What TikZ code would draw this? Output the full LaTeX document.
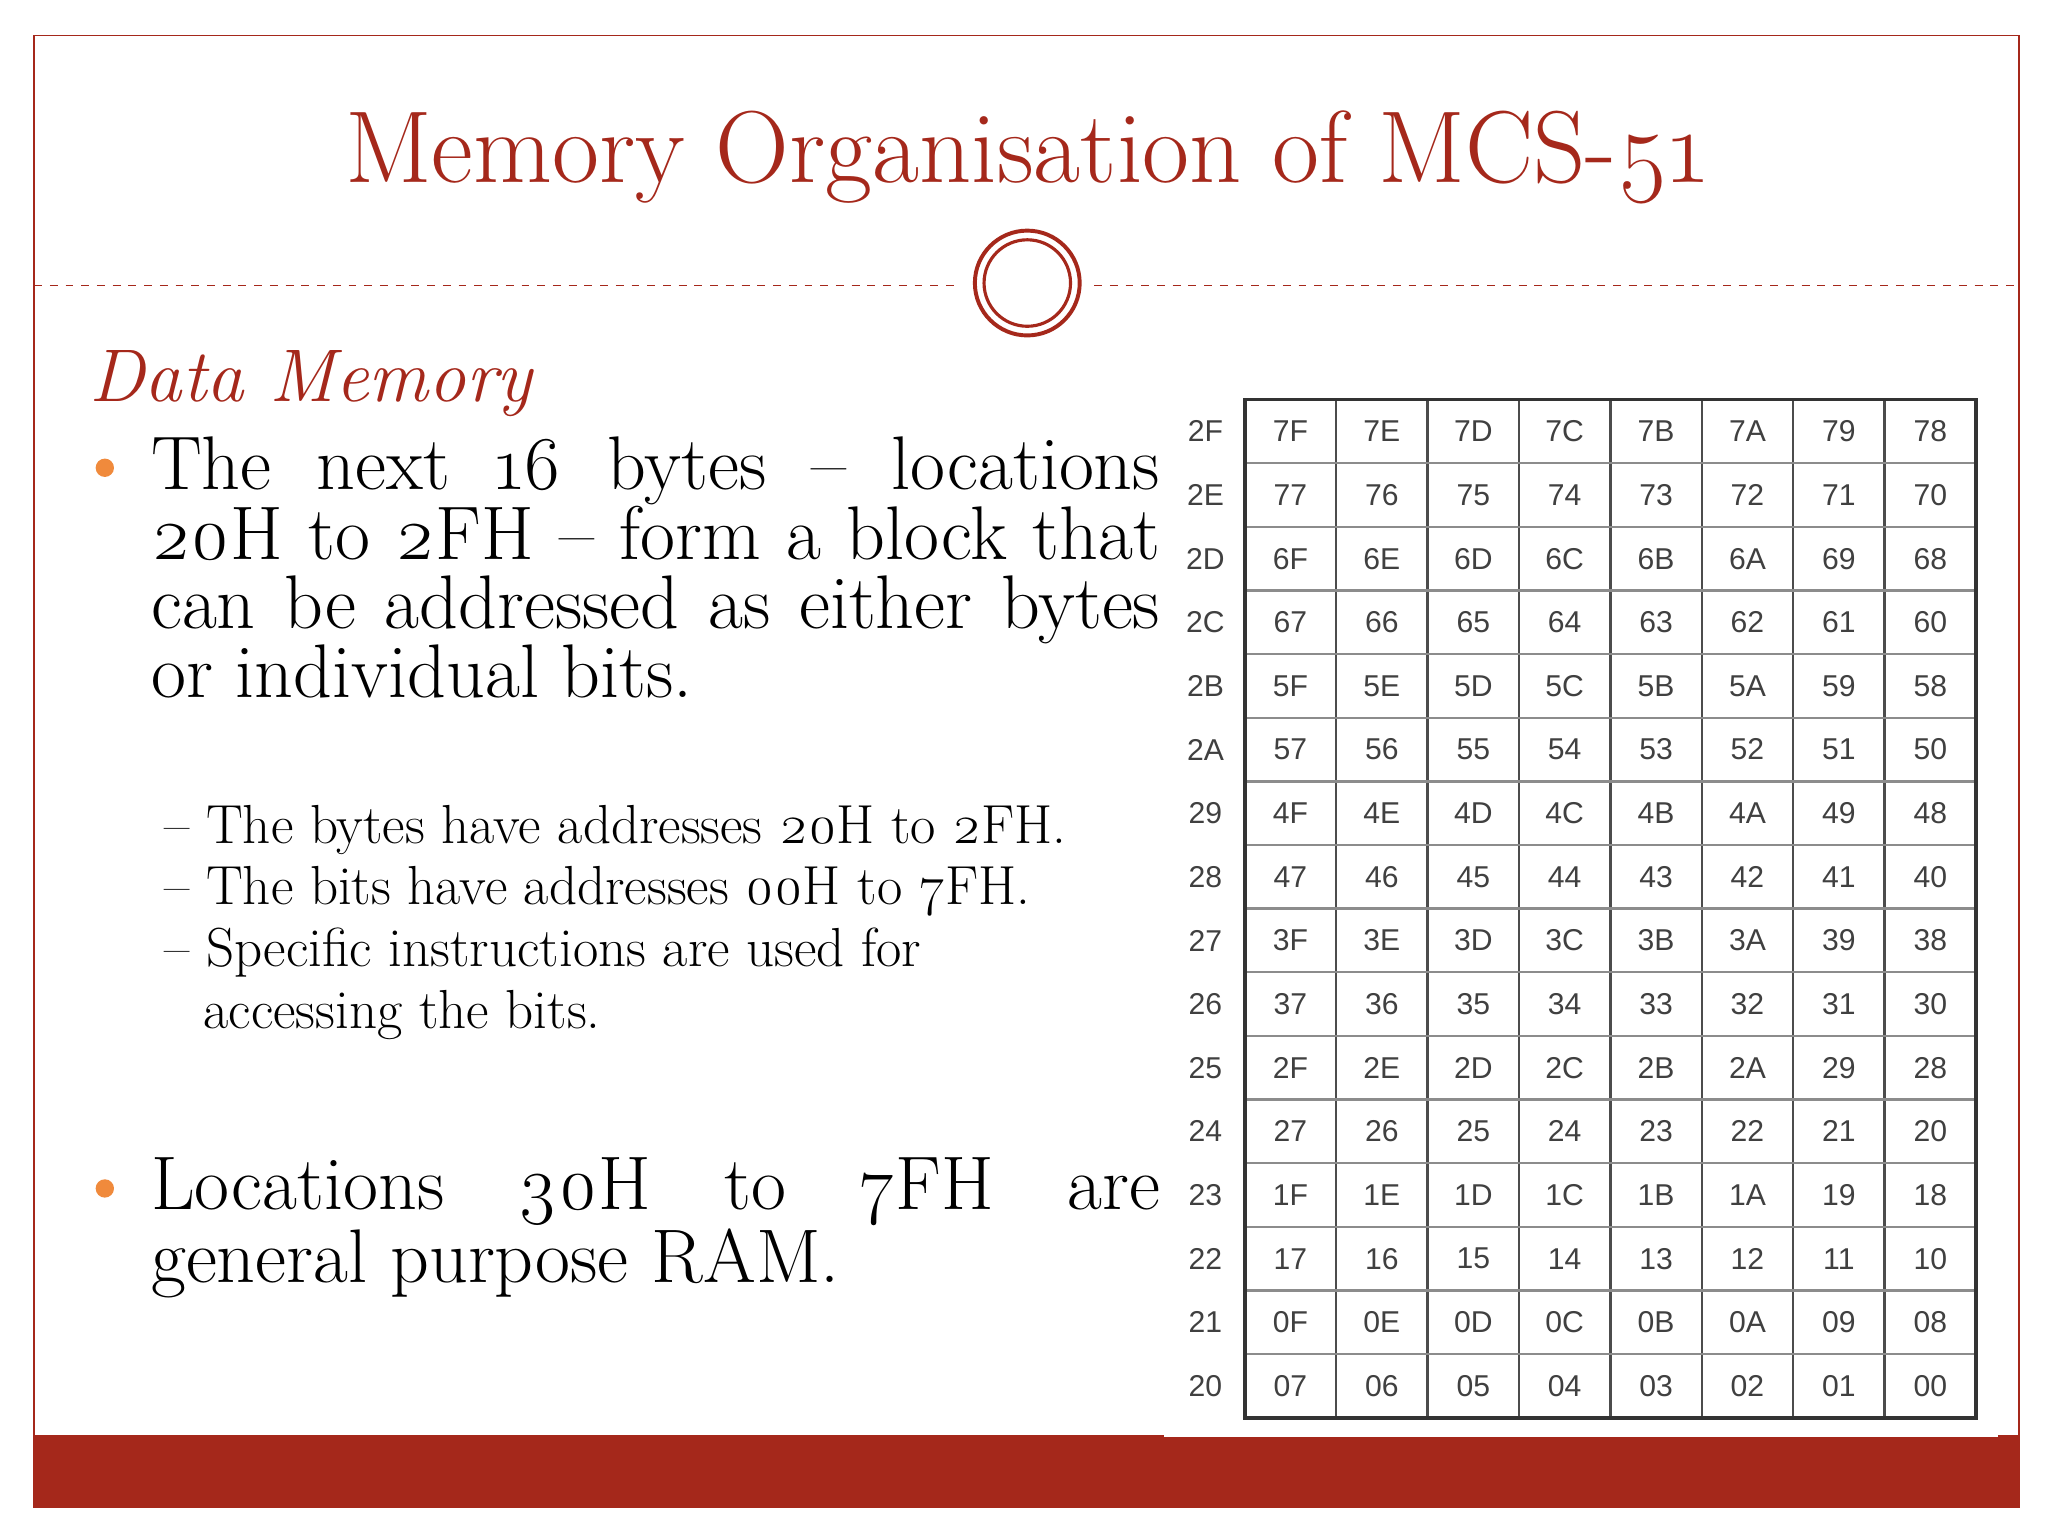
\documentclass[tikz,border=0pt]{standalone}
\usepackage{fontspec}
\setmainfont{Latin Modern Roman}[Numbers=OldStyle]
\newfontfamily\tabfont{Liberation Sans}
\definecolor{dred}{HTML}{A5281B}
\definecolor{orng}{HTML}{F08A3C}
\begin{document}
\begin{tikzpicture}[x=0.5pt,y=-0.5pt,
  body/.style={anchor=north west,inner sep=0,align=justify,text width=385pt,font=\fontsize{29}{26.5}\selectfont},
  sub/.style={anchor=north west,inner sep=0,align=left,font=\fontsize{21}{23.5}\selectfont},
  cell/.style={font=\tabfont\fontsize{11.5}{12}\selectfont,text=black!75}]
\useasboundingbox (0,0) rectangle (1563,1172);
\fill[white] (0,0) rectangle (1563,1172);
\draw[dred,line width=0.6pt] (26,27) rectangle (1541,1150);
\fill[dred] (26,1095) rectangle (1541,1150);
\node[text=dred,font=\fontsize{39}{40}\selectfont] (title) at (783,120) {Memory Organisation of MCS-51};
\draw[dred,dashed,line width=0.5pt] (26,218) -- (733,218);
\draw[dred,dashed,line width=0.5pt] (835,218) -- (1541,218);
\node[circle,draw=dred,line width=1.5pt,minimum size=40pt] (c1) at (784,216) {};
\node[circle,draw=dred,line width=1.2pt,minimum size=33pt] (c2) at (784,216) {};
\node[anchor=west,text=dred,font=\itshape\fontsize{28.5}{30}\selectfont,inner sep=0] (dm) at (68,293) {Data Memory};
\fill[orng] (80,357) circle (7);
\node[body] (p1) at (115,333) {The next 16 bytes -- locations\linebreak 20H to 2FH -- form a block that\linebreak can be addressed as either bytes\linebreak or individual bits.};
\node[sub] (s1) at (125,614) {-- The bytes have addresses 20H to 2FH.\\-- The bits have addresses 00H to 7FH.\\-- Specific instructions are used for\\\hspace*{15pt}accessing the bits.};
\fill[orng] (80,907) circle (7);
\node[body] (p2) at (115,883) {Locations 30H to 7FH are\linebreak general purpose RAM.};
\fill[white] (888,300) rectangle (1525,1097);
\foreach \r [count=\i from 0] in {2F,2E,2D,2C,2B,2A,29,28,27,26,25,24,23,22,21,20} {
  \pgfmathsetmacro\yy{305+(\i+0.5)*48.56}
  \node[cell] (r\i) at (920,\yy) {\r};
}
\foreach \row [count=\i from 0] in {
 {7F,7E,7D,7C,7B,7A,79,78},{77,76,75,74,73,72,71,70},{6F,6E,6D,6C,6B,6A,69,68},{67,66,65,64,63,62,61,60},
 {5F,5E,5D,5C,5B,5A,59,58},{57,56,55,54,53,52,51,50},{4F,4E,4D,4C,4B,4A,49,48},{47,46,45,44,43,42,41,40},
 {3F,3E,3D,3C,3B,3A,39,38},{37,36,35,34,33,32,31,30},{2F,2E,2D,2C,2B,2A,29,28},{27,26,25,24,23,22,21,20},
 {1F,1E,1D,1C,1B,1A,19,18},{17,16,15,14,13,12,11,10},{0F,0E,0D,0C,0B,0A,09,08},{07,06,05,04,03,02,01,00}} {
  \foreach \v [count=\j from 0] in \row {
    \pgfmathsetmacro\yy{305+(\i+0.5)*48.56}
    \pgfmathsetmacro\xx{950+(\j+0.5)*69.75}
    \node[cell] (c\i-\j) at (\xx,\yy) {\v};
  }
}
\foreach \j in {1,...,7} \draw[black!70,line width=0.9pt] ({950+\j*69.75},305) -- ({950+\j*69.75},1082);
\foreach \i in {1,...,15} \draw[black!45,line width=0.9pt] (950,{305+\i*48.56}) -- (1508,{305+\i*48.56});
\draw[black!80,line width=1.4pt] (950,305) rectangle (1508,1082);
\end{tikzpicture}
\end{document}
